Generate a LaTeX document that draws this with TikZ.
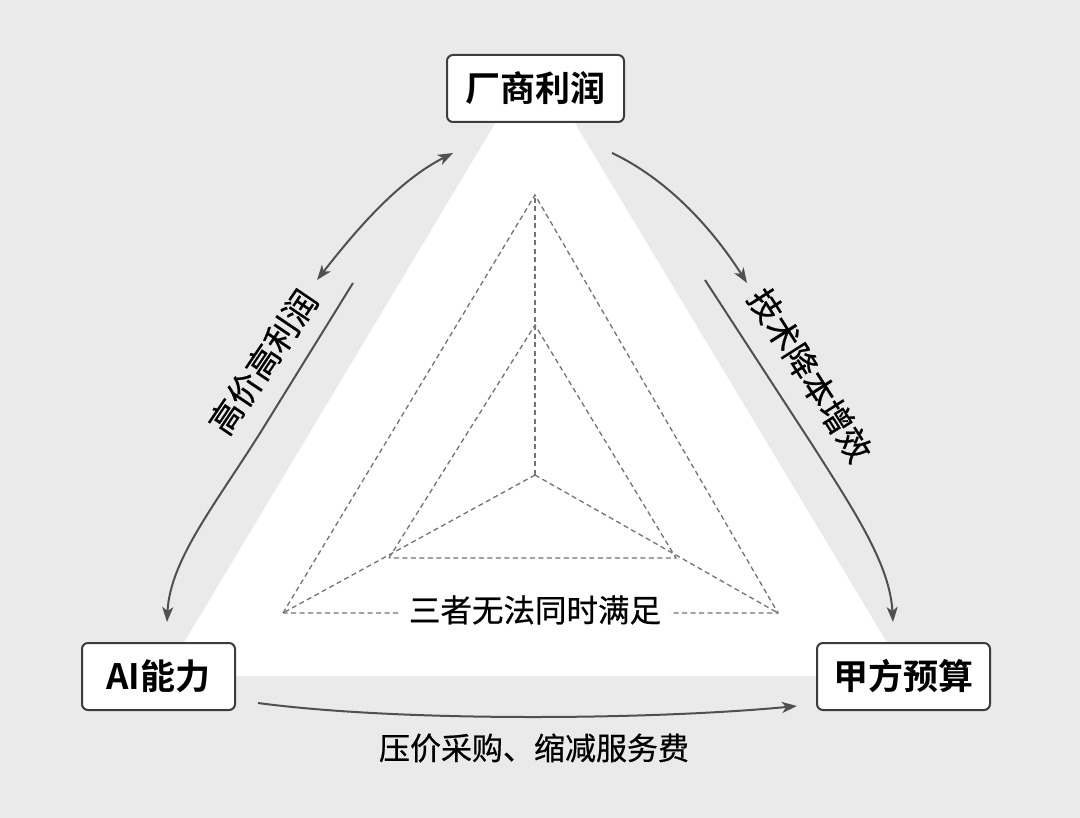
\documentclass[tikz,border=0pt]{standalone}
\usepackage{fontspec}
\setmainfont{Noto Sans CJK SC}[BoldFont={Noto Sans CJK SC Bold}]
\newfontfamily\lblfont{Noto Sans CJK SC}[FakeBold=0.6]
\usetikzlibrary{arrows.meta}
\definecolor{bg}{RGB}{234,234,234}
\definecolor{ln}{RGB}{80,80,80}
\definecolor{bd}{RGB}{60,60,60}
\definecolor{dsh}{RGB}{115,115,115}
\begin{document}
\begin{tikzpicture}[x=1pt,y=-1pt,
  box/.style={draw=bd, line width=2pt, rounded corners=6pt, fill=white,
    minimum height=67pt, inner sep=0pt, font=\fontsize{35}{40}\selectfont\bfseries},
  dsh/.style={draw=dsh, line width=1.3pt, dash pattern=on 5pt off 3.5pt},
  arr/.style={draw=ln, line width=2pt, -{Stealth[length=15pt,width=11pt,inset=4pt]}},
  darr/.style={draw=ln, line width=2pt, {Stealth[length=15pt,width=11pt,inset=4pt]}-{Stealth[length=15pt,width=11pt,inset=4pt]}},
  lbl/.style={font=\lblfont\fontsize{33}{38}\selectfont, inner sep=0pt}]
% canvas
\fill[bg] (0,0) rectangle (1080,818);
\useasboundingbox (0,0) rectangle (1080,818);
% white triangle
\fill[white] (535,57) -- (164,676) -- (907,676) -- cycle;
% dashed radar
\coordinate (oa) at (535,195);
\coordinate (ol) at (283,613);
\coordinate (or) at (778,613);
\coordinate (ia) at (535,325);
\coordinate (il) at (389,558);
\coordinate (ir) at (676,558);
\coordinate (c) at (535,475);
\draw[dsh] (ol) -- (oa) -- (or) -- cycle;
\draw[dsh] (il) -- (ia) -- (ir) -- cycle;
\draw[dsh] (c) -- (oa);
\draw[dsh] (c) -- (ol);
\draw[dsh] (c) -- (or);
\node[fill=white, inner xsep=9pt, inner ysep=2pt, font=\lblfont\fontsize{31.5}{36}\selectfont] (mid) at (535,610) {三者无法同时满足};
% nodes
\node[box, minimum width=177pt] (top) at (535.5,88.5) {厂商利润};
\node[box, minimum width=153pt] (ai) at (158.5,676.5) {AI能力};
\node[box, minimum width=173pt] (bud) at (903.5,676.5) {甲方预算};
% left connectors
\coordinate (l1s) at (317,280);
\coordinate (l1e) at (453,153);
\draw[darr] (l1s) .. controls (360,225) and (400,180) .. (l1e);
\coordinate (l2s) at (353,283);
\coordinate (l2e) at (167,622);
\draw[arr] (l2s) -- (262,430) .. controls (215,505) and (170,560) .. (l2e);
\node[lbl, rotate=56] (lt) at (263,362) {高价高利润};
% right connectors
\coordinate (r1s) at (612,153);
\coordinate (r1e) at (747,283);
\draw[arr] (r1s) .. controls (665,178) and (710,225) .. (r1e);
\coordinate (r2s) at (705,280);
\coordinate (r2e) at (893,622);
\draw[arr] (r2s) -- (813,446) .. controls (855,512) and (890,565) .. (r2e);
\node[lbl, rotate=-57.5] (rt) at (810,375) {技术降本增效};
% bottom connector
\coordinate (bs) at (258,703);
\coordinate (be) at (797,706);
\draw[arr] (bs) .. controls (400,722) and (650,720) .. (be);
\node[lbl, font=\lblfont\fontsize{31}{36}\selectfont] (bt) at (534,748) {压价采购、缩减服务费};
\end{tikzpicture}
\end{document}
